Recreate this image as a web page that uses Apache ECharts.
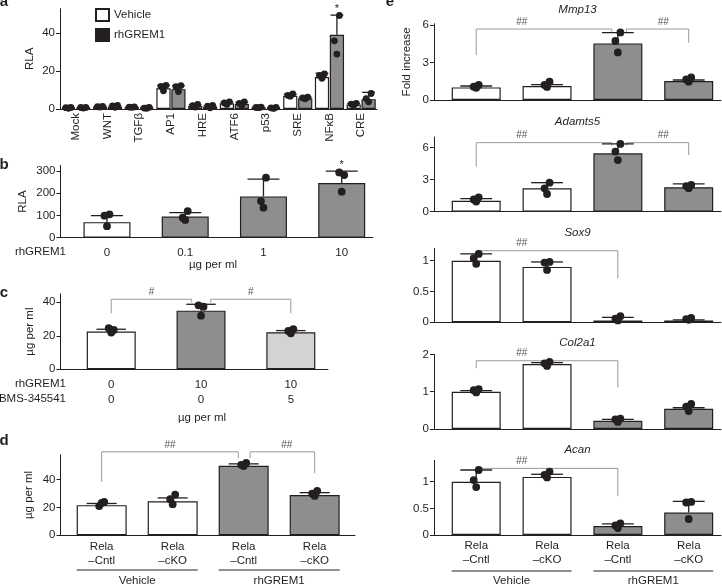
<!DOCTYPE html>
<html><head><meta charset="utf-8">
<script src="https://cdn.jsdelivr.net/npm/echarts@6/dist/echarts.min.js"></script>
<style>html,body{margin:0;padding:0;background:#fff}#c{width:722px;height:585px}</style>
</head><body><div id="c"></div>
<script>
// ---------------- DATA ----------------
// Panel a
const aCategories = ['Mock','WNT','TGFβ','AP1','HRE','ATF6','p53','SRE','NFκB','CRE'];
const aVehicleMean = [0.6,1.2,1.0,10.9,1.6,3.0,0.8,7.0,16.9,2.4];
const aVehicleSD   = [0.2,0.3,0.2,1.6,0.6,0.7,0.2,0.9,2.0,0.6];
const aVehiclePts  = [[0.8,0.7,0.4],[1.4,1.2,1.0],[1.1,1.0,0.9],[12.5,12.0,9.6],[2.4,1.8,1.0],[3.8,3.2,2.4],[1.0,0.8,0.7],[8.0,7.2,6.8],[18.6,17.7,16.2],[3.0,2.6,2.0]];
const aGremMean = [0.7,1.2,0.6,10.5,1.2,2.6,0.5,5.7,39.2,5.2];
const aGremSD   = [0.2,0.5,0.3,1.8,0.5,0.9,0.3,0.6,10.4,3.6];
const aGremPts  = [[0.8,0.8,0.5],[1.9,1.6,0.9],[0.9,0.5,0.4],[12.4,11.8,9.2],[1.9,1.5,0.6],[3.8,3.0,2.0],[0.9,0.6,0.3],[6.3,5.9,5.4],[49.4,36.0,29.0],[8.2,5.5,3.8]];
const aGremSig  = ['','','','','','','','','*',''];
const aTicks = [0,20,40];
// Panel b
const bDoses = ['0','0.1','1','10'];
const bMean = [70,95,186,246];
const bSD   = [29,18,78,54];
const bPts  = [[105,99,52],[120,90,80],[270,165,135],[282,294,207]];
const bSig  = ['','','','*'];
const bTicks = [0,100,200,300];
// Panel c
const cGrem = ['0','10','10'];
const cBMS  = ['0','0','5'];
const cMean = [22.5,35.0,22.1];
const cSD   = [1.4,3.8,1.0];
const cPts  = [[23.5,24.5,21.9],[37.4,38.2,32.0],[23.9,22.9,21.5]];
const cTicks = [0,20,40];
const cBrackets = [[0,0.896,41.8,33.4,39.8,0.45],[1.108,2,41.8,39.8,33.4,1.554]];
const cBracketLabels = ['#','#'];
// Panel d
const genotypes = ['Rela\n–Cntl','Rela\n–cKO','Rela\n–Cntl','Rela\n–cKO'];
const dMean = [21.7,24.5,50.0,29.0];
const dSD   = [1.2,2.4,1.4,1.7];
const dPts  = [[24.0,21.0,23.3],[29.3,26.0,22.4],[52.1,50.7,49.8],[31.9,30.0,28.3]];
const dTicks = [0,20,40];
const dBrackets = [[0,1.924,60.1,38.6,55.4,0.962],[2.09,3.0,60.1,55.4,44.6,2.606]];
const dBracketLabels = ['##','##'];
const groupNames = ['Vehicle','rhGREM1'];
const groupFrom = [0,2];
const groupTo = [1,3];
// Panel e
const eGenes = ['Mmp13','Adamts5','Sox9','Col2a1','Acan'];
const eMax = [6.1,7,1.2,2,1.4];
const eTicks = [[0,3,6],[0,3,6],[0,0.5,1],[0,1,2],[0,0.5,1]];
const eMean = [[1.01,1.12,4.53,1.52],[1.03,2.19,5.47,2.29],[1.0,0.9,0.03,0.03],[1.0,1.74,0.22,0.54],[1.0,1.09,0.17,0.42]];
const eSD = [[0.11,0.11,0.86,0.08],[0.2,0.53,0.88,0.31],[0.11,0.08,0.05,0.01],[0.03,0.04,0.04,0.03],[0.22,0.05,0.04,0.21]];
const ePts = [
  [[1.2,1.07,0.98],[1.47,1.2,1.05],[5.41,4.72,3.81],[1.81,1.65,1.47]],
  [[1.35,1.15,0.95],[2.72,2.19,1.66],[6.35,5.63,4.84],[2.5,2.4,2.2]],
  [[1.11,1.04,0.95],[0.98,0.97,0.85],[0.1,0.06,0.03],[0.07,0.05,0.04]],
  [[1.07,1.04,0.98],[1.8,1.76,1.69],[0.28,0.26,0.19],[0.67,0.6,0.48]],
  [[1.22,1.03,0.9],[1.19,1.13,1.08],[0.22,0.18,0.13],[0.62,0.61,0.3]]
];
const eBrackets = [
  [[0,1.914,5.68,3.6,5.45,0.643],[2.12,3.0,5.68,5.45,4.58,2.64]],
  [[0,1.914,6.47,4.22,6.2,0.643],[2.12,3.0,6.47,6.2,5.31,2.64]],
  [[0,2,1.162,1.12,0.714,0.643]],
  [[0,2,1.83,1.63,1.12,0.643]],
  [[0,2,1.25,1.22,0.73,0.643]]
];
const eBracketLabels = [['##','##'],['##','##'],['##'],['##'],['##']];

// ---------------- STYLE ----------------
const INK = '#231f20', GRAY = '#8e8e90', LIGHT = '#d3d3d5', WHITE = '#ffffff', BR = '#9a9a9a';
const FAM = '"Liberation Sans", Arial, Helvetica, sans-serif';
const JIT = [2.5,-2.5,0];

const grids = [], xAxes = [], yAxes = [], series = [], graphics = [];

function yAx(g, max, ticks, name, nameGap) {
  return {type:'value', gridIndex:g, min:0, max:max,
    axisLine:{show:true, onZero:false, lineStyle:{color:INK, width:1}},
    axisTick:{show:true, length:4, customValues:ticks, lineStyle:{color:INK, width:1}},
    axisLabel:{customValues:ticks, margin:5, color:INK, fontSize:11.5, fontFamily:FAM},
    splitLine:{show:false},
    name:name||'', nameLocation:'middle', nameGap:nameGap||20,
    nameTextStyle:{color:INK, fontSize:11.5, fontFamily:FAM}};
}
function xAx(g, min, max, labels, margin, lineHeight) {
  return {type:'value', gridIndex:g, min:min, max:max,
    axisLine:{show:true, onZero:false, lineStyle:{color:INK, width:1}},
    axisTick:{show:false}, splitLine:{show:false},
    axisLabel:{show:!!labels, customValues: labels ? labels.map((_,i)=>i) : [],
      formatter: v => labels ? labels[Math.round(v)] : '', margin:margin||5, lineHeight:lineHeight||14,
      color:INK, fontSize:11.5, fontFamily:FAM}};
}
function barSeries(g, means, colors, barWidth) {
  return {type:'bar', xAxisIndex:g, yAxisIndex:g, barWidth:barWidth, silent:true,
    data: means.map((m,i)=>({value:[i,m], itemStyle:{color:colors[i]}})),
    itemStyle:{borderColor:INK, borderWidth:1.2}};
}
function errSeries(g, means, sds, pts, o) {
  return {type:'custom', xAxisIndex:g, yAxisIndex:g, silent:true, z:5,
    data: means.map((m,i)=>[i, m, sds[i], pts[i][0], pts[i][1], pts[i][2]]),
    renderItem(params, api) {
      const i = params.dataIndex;
      const x = api.value(0), m = api.value(1), s = api.value(2);
      const p0 = api.coord([x, m]);
      let cx = p0[0], bw = o.barWidth;
      if (o.side) { const band = api.size([1,0])[0]; bw = band*0.4488; cx += o.side*band*0.2356; }
      const y0 = p0[1], y1 = api.coord([x, m+s])[1];
      const cap = bw*o.cap/2;
      const st = {stroke:INK, lineWidth:1.3};
      const ch = [
        {type:'line', shape:{x1:cx,y1:y0,x2:cx,y2:y1}, style:st},
        {type:'line', shape:{x1:cx-cap,y1:y1,x2:cx+cap,y2:y1}, style:st}
      ];
      for (let k=0;k<3;k++) {
        const py = api.coord([x, api.value(3+k)])[1];
        ch.push({type:'circle', shape:{cx:cx+JIT[k], cy:py, r:o.r}, style:{fill:INK}});
      }
      if (o.sig && o.sig[i]) {
        ch.push({type:'text', x:cx, y:y1-1, style:{text:o.sig[i], align:'center', verticalAlign:'bottom',
          textAlign:'center', textVerticalAlign:'bottom', fill:INK, font:'11px '+FAM}});
      }
      return {type:'group', children:ch};
    }};
}
function bracketSeries(g, br, labels) {
  return {type:'custom', xAxisIndex:g, yAxisIndex:g, silent:true, z:4, data:br,
    renderItem(params, api) {
      const v = k => api.value(k);
      const a = api.coord([v(0), v(3)]), b = api.coord([v(0), v(2)]),
            c = api.coord([v(1), v(2)]), d = api.coord([v(1), v(4)]);
      const t = api.coord([v(5), v(2)]);
      return {type:'group', children:[
        {type:'polyline', shape:{points:[a,b,c,d]}, style:{stroke:BR, lineWidth:1, fill:null}},
        {type:'text', x:t[0], y:t[1]-2, style:{text:labels[params.dataIndex], align:'center', verticalAlign:'bottom',
          textAlign:'center', textVerticalAlign:'bottom', fill:'#555', font:'10px '+FAM}}
      ]};
    }};
}
function groupSeries(g, barW, dy, textDy) {
  return {type:'custom', xAxisIndex:g, yAxisIndex:g, silent:true, z:4,
    data: groupNames.map((n,i)=>[groupFrom[i], groupTo[i]]),
    renderItem(params, api) {
      const p1 = api.coord([api.value(0), 0]), p2 = api.coord([api.value(1), 0]);
      const y = p1[1] + dy;
      return {type:'group', children:[
        {type:'line', shape:{x1:p1[0]-barW/2, y1:y, x2:p2[0]+barW/2, y2:y}, style:{stroke:INK, lineWidth:1}},
        {type:'text', x:(p1[0]+p2[0])/2, y:y+textDy, style:{text:groupNames[params.dataIndex], align:'center', verticalAlign:'middle',
          textAlign:'center', textVerticalAlign:'middle', fill:INK, font:'11.5px '+FAM}}
      ]};
    }};
}
function txt(x, y, text, font, align, color) {
  graphics.push({type:'text', x:x, y:y, silent:true, style:{text:text, font:font, fill:color||INK,
    align:align||'center', verticalAlign:'middle', textAlign:align||'center', textVerticalAlign:'middle'}});
}

// ---------------- PANEL a ----------------
grids.push({left:60, top:8.7, width:317, height:100.3});
xAxes.push({type:'category', gridIndex:0, data:aCategories,
  axisLine:{show:true, lineStyle:{color:INK, width:1}}, axisTick:{show:false},
  axisLabel:{rotate:90, interval:0, margin:4, color:INK, fontSize:11.5, fontFamily:FAM}});
yAxes.push(yAx(0, 53, aTicks, 'RLA', 24));
series.push({type:'bar', name:'Vehicle', xAxisIndex:0, yAxisIndex:0, data:aVehicleMean, barCategoryGap:'8%', barGap:'5%',
  itemStyle:{color:WHITE, borderColor:INK, borderWidth:1.2}, silent:true});
series.push({type:'bar', name:'rhGREM1', xAxisIndex:0, yAxisIndex:0, data:aGremMean, barCategoryGap:'8%', barGap:'5%',
  itemStyle:{color:GRAY, borderColor:INK, borderWidth:1.2}, silent:true});
series.push(errSeries(0, aVehicleMean, aVehicleSD, aVehiclePts, {side:-1, cap:0.9, r:3.4}));
series.push(errSeries(0, aGremMean, aGremSD, aGremPts, {side:1, cap:0.9, r:3.4, sig:aGremSig}));

// ---------------- PANEL b ----------------
grids.push({left:60.5, top:165.5, width:312.5, height:72.2});
xAxes.push(xAx(1, -0.594, 3.4, bDoses, 8, 14));
yAxes.push(yAx(1, 325, bTicks, 'RLA', 32));
series.push(barSeries(1, bMean, [WHITE,GRAY,GRAY,GRAY], 47));
series.push(errSeries(1, bMean, bSD, bPts, {barWidth:47, cap:0.68, r:3.9, sig:bSig}));

// ---------------- PANEL c ----------------
grids.push({left:60.5, top:293.9, width:267.5, height:75.4});
xAxes.push(xAx(2, -0.565, 2.414, cGrem.map((v,i)=>v+'\n'+cBMS[i]), 8, 15));
yAxes.push(yAx(2, 45, cTicks, 'µg per ml', 25));
series.push(barSeries(2, cMean, [WHITE,GRAY,LIGHT], 49));
series.push(errSeries(2, cMean, cSD, cPts, {barWidth:49, cap:0.6, r:3.9}));
series.push(bracketSeries(2, cBrackets, cBracketLabels));

// ---------------- PANEL d ----------------
grids.push({left:60.5, top:454.7, width:294.5, height:80.6});
xAxes.push(xAx(3, -0.58, 3.568, genotypes, 5, 13.5));
yAxes.push(yAx(3, 58, dTicks, 'µg per ml', 26));
series.push(barSeries(3, dMean, [WHITE,WHITE,GRAY,GRAY], 50));
series.push(errSeries(3, dMean, dSD, dPts, {barWidth:50, cap:0.6, r:3.9}));
series.push(bracketSeries(3, dBrackets, dBracketLabels));
series.push(groupSeries(3, 50, 34.7, 11));

// ---------------- PANEL e ----------------
const eTop = [23.75,137,248.4,354.4,460.4];
const eHeight = [76.25,74.7,73.9,74.6,74.6];
const eTitleY = [10,121.7,232.7,342.7,450];
eGenes.forEach((gene, k) => {
  const g = 4 + k;
  grids.push({left:434, top:eTop[k], width:287, height:eHeight[k]});
  xAxes.push(xAx(g, -0.596, 3.456, k === 4 ? genotypes : null, 4, 14));
  yAxes.push(yAx(g, eMax[k], eTicks[k], k === 0 ? 'Fold increase' : '', 21));
  series.push(barSeries(g, eMean[k], [WHITE,WHITE,GRAY,GRAY], 49));
  series.push(errSeries(g, eMean[k], eSD[k], ePts[k], {barWidth:49, cap:0.65, r:3.9}));
  series.push(bracketSeries(g, eBrackets[k], eBracketLabels[k]));
  txt(577.5, eTitleY[k], gene, 'italic 11.5px '+FAM);
});
series.push(groupSeries(8, 49, 36, 9.5));

// ---------------- TEXT ----------------
const LETTER = 'bold 15px '+FAM;
txt(4, 2, 'a', LETTER); txt(4, 165, 'b', LETTER); txt(4, 293, 'c', LETTER);
txt(4, 441, 'd', LETTER); txt(390, 2, 'e', LETTER);
txt(66, 252, 'rhGREM1', '11.5px '+FAM, 'right');
txt(213, 265, 'µg per ml', '11.5px '+FAM);
txt(66, 384, 'rhGREM1', '11.5px '+FAM, 'right');
txt(66, 399, 'BMS-345541', '11.5px '+FAM, 'right');
txt(202, 418, 'µg per ml', '11.5px '+FAM);

const chart = echarts.init(document.getElementById('c'), null, {renderer:'canvas'});
chart.setOption({
  animation:false,
  backgroundColor:'#ffffff',
  textStyle:{fontFamily:FAM},
  legend:{show:true, left:95, top:8, padding:0, orient:'vertical', icon:'rect', itemWidth:13, itemHeight:12, itemGap:6,
    selectedMode:false, textStyle:{fontSize:11.5, color:INK, fontFamily:FAM},
    data:[{name:'Vehicle'}, {name:'rhGREM1', itemStyle:{color:INK}}]},
  grid: grids.map(g => Object.assign({containLabel:false, outerBoundsMode:'none'}, g)),
  xAxis: xAxes, yAxis: yAxes, series: series, graphic: graphics
});
</script></body></html>
